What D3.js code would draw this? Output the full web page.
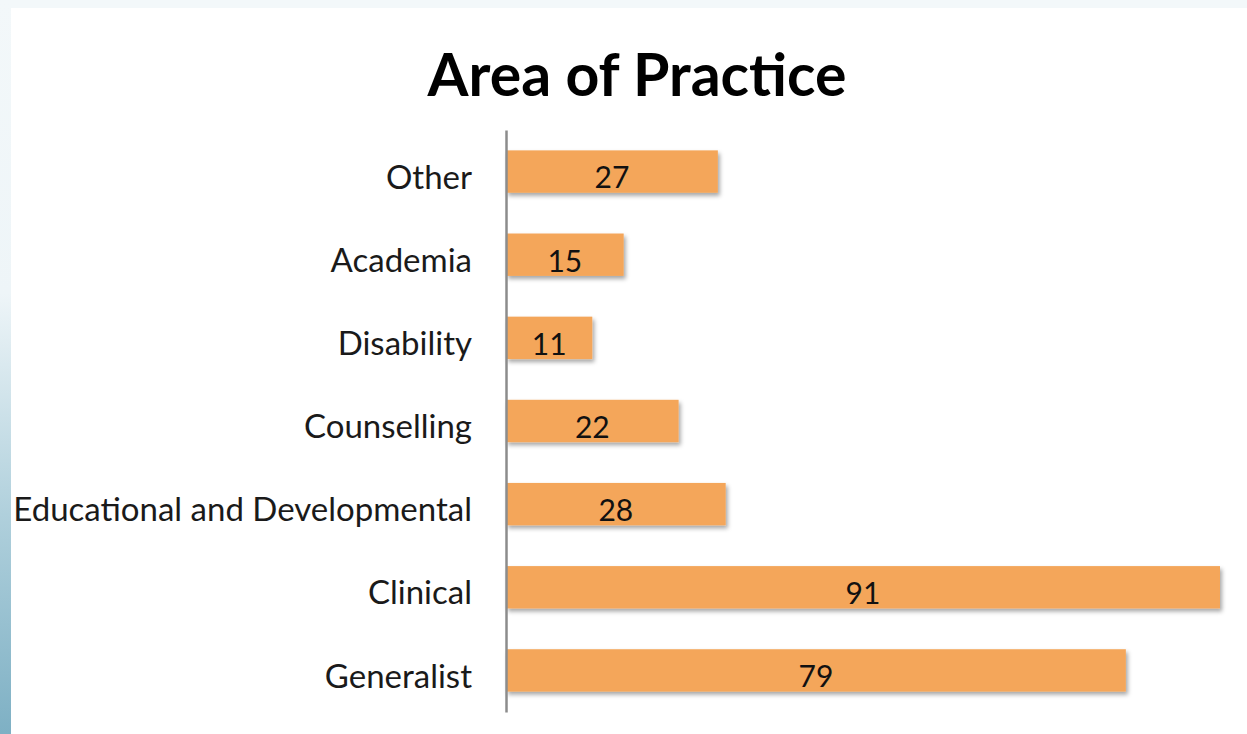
<!DOCTYPE html>
<html>
<head>
<meta charset="utf-8">
<script src="https://cdn.jsdelivr.net/npm/d3@7"></script>
<style>
  html, body { margin: 0; padding: 0; background: #f3f8fa; }
  svg { display: block; }
</style>
</head>
<body>
<div id="main"></div>
<script>
// chart data, top to bottom
const categories = ["Other", "Academia", "Disability", "Counselling", "Educational and Developmental", "Clinical", "Generalist"];
const counts = [27, 15, 11, 22, 28, 91, 79];
const chartTitle = "Area of Practice";

const w = 1247;
const h = 734;
const axisX = 506;

const svg = d3.select("#main").append("svg").attr("width", w).attr("height", h);

// backdrop: pale frame with a blue strip on the left edge
const defs = svg.append("defs");
const grad = defs.append("linearGradient").attr("id", "strip")
    .attr("x1", 0).attr("y1", 0).attr("x2", 0).attr("y2", 1);
grad.append("stop").attr("offset", "0%").attr("stop-color", "#f3f8fa");
grad.append("stop").attr("offset", "40%").attr("stop-color", "#eef5f8");
grad.append("stop").attr("offset", "70%").attr("stop-color", "#b0d0dc");
grad.append("stop").attr("offset", "100%").attr("stop-color", "#7eb0c4");

const shadow = defs.append("filter").attr("id", "shadow")
    .attr("x", "-5%").attr("y", "-20%").attr("width", "115%").attr("height", "160%");
shadow.append("feDropShadow")
    .attr("dx", 2).attr("dy", 3).attr("stdDeviation", 2.2)
    .attr("flood-color", "#000").attr("flood-opacity", 0.35);

svg.append("rect").attr("width", w).attr("height", h).attr("fill", "#f3f8fa");
svg.append("rect").attr("x", 0).attr("y", 0).attr("width", 11).attr("height", h).attr("fill", "url(#strip)");
svg.append("rect").attr("x", 11).attr("y", 8).attr("width", w - 11).attr("height", h - 8).attr("fill", "#fff");

// scales
const xScale = d3.scaleLinear()
    .domain([0, d3.max(counts)])
    .range([axisX, 1220]);

const yScale = d3.scaleBand()
    .domain(categories)
    .range([130, 712])
    .paddingInner(0.49)
    .paddingOuter(0.245);

// title
svg.append("text")
    .attr("x", 637)
    .attr("y", 96)
    .attr("text-anchor", "middle")
    .style("font-family", "Lato, 'Open Sans', sans-serif")
    .style("font-weight", "bold")
    .style("font-size", "59px")
    .style("fill", "#000")
    .text(chartTitle);

// bars
svg.selectAll("rect.bar")
    .data(categories)
    .enter()
    .append("rect")
    .attr("class", "bar")
    .attr("x", xScale(0))
    .attr("y", d => yScale(d))
    .attr("width", (d, i) => xScale(counts[i]) - xScale(0))
    .attr("height", yScale.bandwidth())
    .attr("fill", "#f4a65a")
    .attr("filter", "url(#shadow)");

// value labels
svg.selectAll("text.val")
    .data(categories)
    .enter()
    .append("text")
    .attr("class", "val")
    .attr("x", (d, i) => (xScale(0) + xScale(counts[i])) / 2)
    .attr("y", d => yScale(d) + yScale.bandwidth() / 2 + 6)
    .attr("dy", "0.36em")
    .attr("text-anchor", "middle")
    .style("font-family", "Lato, 'Open Sans', sans-serif")
    .style("font-size", "30px")
    .style("fill", "#111")
    .text((d, i) => counts[i]);

// category axis
const yAxis = d3.axisLeft(yScale).tickSize(0).tickPadding(34);
const gy = svg.append("g")
    .attr("transform", "translate(" + axisX + ",0)")
    .call(yAxis);
gy.select(".domain").attr("stroke", "#8c8c8c").attr("stroke-width", 2.5);
gy.selectAll(".tick text")
    .attr("dy", "0.52em")
    .style("font-family", "Lato, 'Open Sans', sans-serif")
    .style("font-size", "33px")
    .style("fill", "#1a1a1a");
</script>
</body>
</html>
